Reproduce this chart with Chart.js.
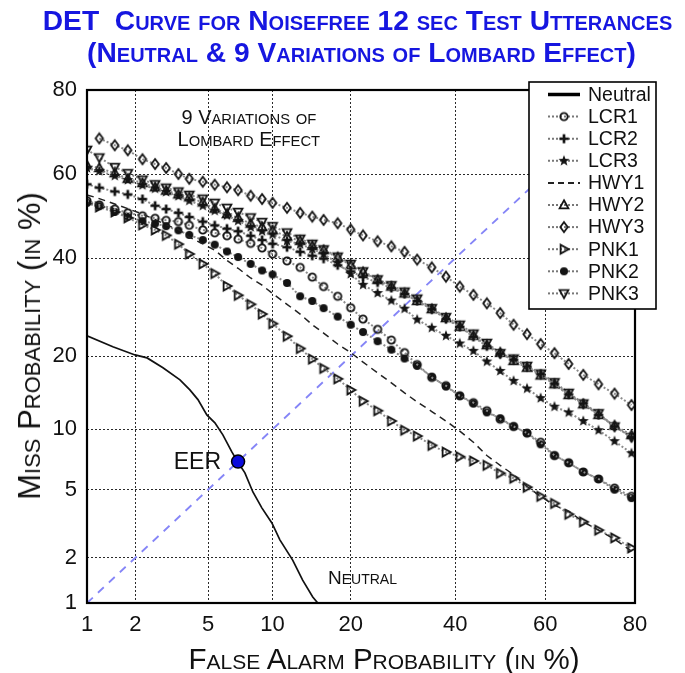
<!DOCTYPE html>
<html><head><meta charset="utf-8">
<script src="https://cdn.jsdelivr.net/npm/chart.js@4.4.1/dist/chart.umd.min.js"></script>
<style>
html,body{margin:0;padding:0;background:#fff;}
#wrap{position:relative;width:685px;height:673px;overflow:hidden;font-family:"Liberation Sans",Arial,sans-serif;}
#wrap canvas{position:absolute;left:0;top:0;}
.title{position:absolute;left:0;width:715px;text-align:center;font-weight:bold;font-size:28px;color:#1616e0;font-variant:small-caps;line-height:32px;white-space:nowrap;}
.axt{position:absolute;color:#111;font-variant:small-caps;white-space:nowrap;transform:translate(-50%,-50%);line-height:34px;}
</style></head><body>
<div id="wrap">
<canvas id="c" width="685" height="673"></canvas>
<div class="title" style="top:4px;font-size:28.2px">DET&nbsp; Curve for Noisefree 12 sec Test Utterances</div>
<div class="title" style="top:36px;left:4px;font-size:28.2px">(Neutral &amp; 9 Variations of Lombard Effect)</div>
<div class="axt" style="left:30px;top:346px;font-size:31px;transform:translate(-50%,-50%) rotate(-90deg)">Miss Probability (in %)</div>
<div class="axt" style="left:384px;top:659px;font-size:29.5px">False Alarm Probability (in %)</div>
</div>
<script>
// ---------- DATA (percent) ----------
const tickPct = [1, 2, 5, 10, 20, 40, 60, 80];
const tickLabels = ['1', '2', '5', '10', '20', '40', '60', '80'];
const axisRangePct = [1, 77.6];

const falseAlarmPct = [1.0,1.2,1.5,1.8,2.2,2.6,3.0,3.5,4.0,4.7,5.4,6.2,7.0,8.0,9.0,10,11.5,13,14.5,16,18,20,22,24.5,27,29.5,32,35,38,41,44,47,50,53,56,59,62,65,68,71,74,77];

const seriesNames = ['LCR1','LCR2','LCR3','HWY1','HWY2','HWY3','PNK1','PNK2','PNK3'];

const lcr1Miss = [53.7,52.7,51.7,50.8,50.1,49.5,49,48.7,47.8,46.7,46,45.3,44.5,43.5,42.4,41,39.4,37.9,35.7,33.6,31.5,29.1,26.8,24.8,22.8,20.6,18.6,16.6,15.4,14,13.1,12.1,11.1,10.3,9.6,8.7,7.5,6.9,6.2,5.7,5.1,4.6];
const lcr2Miss = [57.6,56.8,55.9,55.2,54.1,52.5,51.7,50.8,49.8,48.7,47.8,47,46.4,45.3,44.3,43.4,42.6,41.5,40.6,39.9,38.4,37,35.7,34.5,33.3,32,30.5,28.8,26.8,25.3,23.4,21.7,20.4,19.4,18.3,17.1,15.7,14.2,13,11.6,10.3,9.2];
const lcr3Miss = [61.4,60.7,59.6,58.6,57.4,56.6,55.8,54.8,53.7,52.5,51.3,50.2,48.9,47.4,46.4,45.6,44.1,43.3,42.2,41,38.9,36.4,34,32.2,30.6,28.9,26.7,25.1,23.6,22.2,20.9,19.1,17.6,16.1,15,13.7,12.6,11.9,10.9,9.9,8.8,7.7];
const hwy1Miss = [55.1,54.2,52.9,51.8,50.5,49.2,47.9,46.8,45,43.4,41.9,39.5,37.7,35.5,33.9,32.1,29.8,27.8,25.7,24.1,22.1,20.6,19,17.3,15.8,14.4,13.2,12,10.9,9.8,8.7,7.5,6.7,6,5.2,4.6,4.1,3.8,3.3,2.95,2.6,2.2];
const hwy2Miss = [62,61.4,60.2,58.9,57.9,56.9,56.1,55.2,54.5,53.3,51.8,50.5,49.6,48.2,47.4,46.6,45.1,44.1,42.9,41.9,40.2,38.4,36.8,35.1,33.6,32.1,30.5,28.8,27,25.3,23.6,21.9,20.6,19.2,18.1,16.9,15.6,14.1,12.9,11.6,10.4,9.4];
const hwy3Miss = [null,68,66.5,65.4,63.4,62.3,61.4,60,58.9,58.2,57.5,56.9,56.2,54.9,54.1,53.2,52,50.8,49.9,49.1,48.3,46.8,45.4,44,42.8,41.5,39.7,37.9,35.8,33.6,31.8,30,28,25.7,23.9,22.1,20.5,18.7,17,15.6,14.3,12.8];
const pnk1Miss = [53.1,52.2,51,49.6,47.9,46.7,45.4,43.3,41,38.7,36.5,33.7,31.7,29.8,27.8,25.9,23.5,21.3,19.5,18,16.4,14.8,13.3,12.1,10.9,9.9,9.3,8.4,7.8,7.4,7.05,6.7,6.1,5.75,5.15,4.6,4.2,3.65,3.3,2.95,2.65,2.3];
const pnk2Miss = [53.2,52.4,51,49.9,48.8,48.2,47.6,46.6,45.5,44.3,43.2,41.6,40.3,38.7,37.2,36.3,34.4,31.5,30.5,29,27.3,25.7,24.3,22.6,21.1,19.6,18.4,16.7,15.3,14,13,11.9,11.2,10.3,9.6,8.5,7.5,6.9,6.2,5.7,5,4.5];
const pnk3Miss = [65.5,63.8,61.6,60.2,58.7,57.6,56.8,55.9,55.1,54.2,53.2,52,51,49.7,48.6,47.6,46.1,44.6,43.4,42.1,40.4,38.7,37,35.2,33.9,32.5,31,29,27.2,25.7,24,22.3,20.5,19.6,18.4,17.2,15.9,14.4,13,11.8,10.3,9.2];

const neutralFalseAlarm = [1.0,1.46,1.99,2.34,2.88,3.57,4.03,4.44,4.93,5.41,5.92,6.54,6.98,7.53,8.19,8.98,9.93,10.74,12.13,13.3,14.56,15.22,15.6];
const neutralMiss = [23.6,21.6,20.2,19.7,18.1,16.25,14.8,13.5,11.6,10.7,9.42,7.81,6.97,6.13,4.86,3.97,3.25,2.58,1.93,1.43,1.10,1.0,0.95];

const eerPct = 7.0;
const diagonalPct = [1, 80];

// ---------- helpers ----------
function probit(p){
  const a=[-3.969683028665376e+01,2.209460984245205e+02,-2.759285104469687e+02,1.383577518672690e+02,-3.066479806614716e+01,2.506628277459239e+00];
  const b=[-5.447609879822406e+01,1.615858368580409e+02,-1.556989798598866e+02,6.680131188771972e+01,-1.328068155288572e+01];
  const c=[-7.784894002430293e-03,-3.223964580411365e-01,-2.400758277161838e+00,-2.549732539343734e+00,4.374664141464968e+00,2.938163982698783e+00];
  const d=[7.784695709041462e-03,3.224671290700398e-01,2.445134137142996e+00,3.754408661907416e+00];
  const pl=0.02425; let q,r;
  if(p<pl){q=Math.sqrt(-2*Math.log(p));return (((((c[0]*q+c[1])*q+c[2])*q+c[3])*q+c[4])*q+c[5])/((((d[0]*q+d[1])*q+d[2])*q+d[3])*q+1);}
  if(p<=1-pl){q=p-0.5;r=q*q;return (((((a[0]*r+a[1])*r+a[2])*r+a[3])*r+a[4])*r+a[5])*q/(((((b[0]*r+b[1])*r+b[2])*r+b[3])*r+b[4])*r+1);}
  q=Math.sqrt(-2*Math.log(1-p));return -(((((c[0]*q+c[1])*q+c[2])*q+c[3])*q+c[4])*q+c[5])/((((d[0]*q+d[1])*q+d[2])*q+d[3])*q+1);
}
const P = v => probit(v/100);
function toPoints(xs, ys){
  const out=[];
  xs.forEach((x,i)=>{ if(ys[i]!=null) out.push({x:P(x), y:P(ys[i])}); });
  return out;
}
function marker(kind){
  const s=14, cv=document.createElement('canvas'); cv.width=s; cv.height=s;
  const g=cv.getContext('2d'); g.translate(7,7);
  g.strokeStyle='#141414'; g.fillStyle='#141414'; g.lineWidth=1.8; g.beginPath();
  switch(kind){
    case 'circle': g.arc(0,0,3.7,0,Math.PI*2); g.stroke(); break;
    case 'dot': g.arc(0,0,4,0,Math.PI*2); g.fill(); break;
    case 'plus': g.lineWidth=2.7; g.moveTo(-4.6,0); g.lineTo(4.6,0); g.moveTo(0,-4.6); g.lineTo(0,4.6); g.stroke(); break;
    case 'star': for(let i=0;i<10;i++){const r=i%2?2.4:5.8; const an=-Math.PI/2+i*Math.PI/5; g.lineTo(r*Math.cos(an), r*Math.sin(an));} g.closePath(); g.fill(); break;
    case 'triUp': g.moveTo(0,-4.7); g.lineTo(4.4,3.4); g.lineTo(-4.4,3.4); g.closePath(); g.stroke(); break;
    case 'triDown': g.moveTo(0,4.7); g.lineTo(4.4,-3.4); g.lineTo(-4.4,-3.4); g.closePath(); g.stroke(); break;
    case 'triRight': g.moveTo(4.7,0); g.lineTo(-3.4,4.4); g.lineTo(-3.4,-4.4); g.closePath(); g.stroke(); break;
    case 'diamond': g.moveTo(0,-5); g.lineTo(3.7,0); g.lineTo(0,5); g.lineTo(-3.7,0); g.closePath(); g.stroke(); break;
  }
  return cv;
}

const seriesValues = [lcr1Miss, lcr2Miss, lcr3Miss, hwy1Miss, hwy2Miss, hwy3Miss, pnk1Miss, pnk2Miss, pnk3Miss];
const markerKind = ['circle','plus','star',null,'triUp','diamond','triRight','dot','triDown'];
const markerImg = markerKind.map(k => k ? marker(k) : null);

const FONT = '"Liberation Sans", Arial, sans-serif';

const datasets = [];
datasets.push({label:'EER', data:[{x:P(eerPct), y:P(eerPct)}], showLine:false, pointStyle:'circle', pointRadius:6.5, backgroundColor:'#0b0bdc', borderColor:'#000', borderWidth:1.5});
datasets.push({label:'Neutral', data:toPoints(neutralFalseAlarm, neutralMiss), showLine:true, borderColor:'#111', borderWidth:1.7, pointRadius:0, tension:0});
seriesNames.forEach((name,i)=>{
  const pts = toPoints(falseAlarmPct, seriesValues[i]);
  if(markerImg[i]){
    datasets.push({label:name, data:pts, showLine:true, borderColor:'#8c8c8c', borderWidth:2, borderDash:[2,2], pointStyle:markerImg[i], pointRadius:5, pointHoverRadius:5, tension:0});
  } else {
    datasets.push({label:name, data:pts, showLine:true, borderColor:'#222', borderWidth:1.5, borderDash:[7,5], pointRadius:0, tension:0});
  }
});
datasets.push({label:'diag', data:[{x:P(diagonalPct[0]),y:P(diagonalPct[0])},{x:P(diagonalPct[1]),y:P(diagonalPct[1])}], showLine:true, borderColor:'#8585f7', borderWidth:1.8, borderDash:[8,7], pointRadius:0});

function axis(isX){
  return {
    type:'linear',
    min:P(axisRangePct[0]), max:P(axisRangePct[1]),
    afterBuildTicks:(s)=>{ s.ticks = tickPct.map(p=>({value:Math.min(P(p), s.max)})); },
    afterFit:(s)=>{ if(isX) s.height=70; else s.width=87; },
    ticks:{autoSkip:false, maxRotation:0, padding:isX?9:10, color:'#111', font:{size:22, family:FONT}, callback:(v,i)=>tickLabels[i]},
    grid:{color:'#2a2a2a', lineWidth:1, drawTicks:false},
    border:{display:false, dash:[2,2]}
  };
}

function drawSC(ctx, text, x, y, size, align, sc){
  const ratio=0.74, runs=[];
  for(const ch of text){
    const low = sc && ch !== ch.toUpperCase();
    const s = low ? size*ratio : size;
    const t = sc ? ch.toUpperCase() : ch;
    if(runs.length && runs[runs.length-1].s===s) runs[runs.length-1].t+=t; else runs.push({t,s});
  }
  let w=0; runs.forEach(r=>{ctx.font=`${r.s}px ${FONT}`; r.w=ctx.measureText(r.t).width; w+=r.w;});
  let cx = align==='center'? x-w/2 : align==='right'? x-w : x;
  ctx.textBaseline='alphabetic'; ctx.textAlign='left';
  runs.forEach(r=>{ctx.font=`${r.s}px ${FONT}`; ctx.fillText(r.t,cx,y); cx+=r.w;});
}

const notes = [
  {text:'9 Variations of', fa:7.85, miss:71, align:'center', size:20, sc:true},
  {text:'Lombard Effect', fa:7.85, miss:66.4, align:'center', size:20, sc:true},
  {text:'Neutral', fa:16.6, miss:1.35, align:'left', size:19, sc:true},
  {text:'EER', fa:5.8, miss:6.43, align:'right', size:23, sc:false}
];

const framePlugin = {
  id:'frame',
  afterDatasetsDraw(chart){
    const {ctx, chartArea:a, scales} = chart;
    ctx.save();
    ctx.strokeStyle='#000'; ctx.lineWidth=2.2;
    ctx.strokeRect(a.left, a.top, a.right-a.left, a.bottom-a.top);
    ctx.fillStyle='#111';
    notes.forEach(n=>{
      drawSC(ctx, n.text, scales.x.getPixelForValue(P(n.fa)), scales.y.getPixelForValue(P(n.miss)), n.size, n.align, n.sc);
    });
    ctx.restore();
  },
  afterDraw(chart){
    const ctx = chart.ctx;
    const bx=529, by=82, bw=127, bh=227, row=22.1;
    ctx.save();
    ctx.fillStyle='#fff'; ctx.fillRect(bx,by,bw,bh);
    ctx.strokeStyle='#000'; ctx.lineWidth=1.6; ctx.strokeRect(bx,by,bw,bh);
    const entries = ['Neutral'].concat(seriesNames);
    entries.forEach((name,i)=>{
      const y = by+12.5+i*row;
      const x0=548, x1=580;
      if(name==='Neutral'){
        ctx.setLineDash([]); ctx.strokeStyle='#000'; ctx.lineWidth=3.5;
        ctx.beginPath(); ctx.moveTo(x0,y); ctx.lineTo(x1,y); ctx.stroke();
      } else {
        const k = seriesNames.indexOf(name);
        if(markerImg[k]){
          ctx.setLineDash([2,2]); ctx.strokeStyle='#777'; ctx.lineWidth=2;
          ctx.beginPath(); ctx.moveTo(x0,y); ctx.lineTo(x1,y); ctx.stroke();
          ctx.setLineDash([]);
          ctx.drawImage(markerImg[k], (x0+x1)/2-7, y-7);
        } else {
          ctx.setLineDash([6,4]); ctx.strokeStyle='#222'; ctx.lineWidth=2;
          ctx.beginPath(); ctx.moveTo(x0,y); ctx.lineTo(x1,y); ctx.stroke();
          ctx.setLineDash([]);
        }
      }
      ctx.fillStyle='#111'; ctx.font=`19.5px ${FONT}`; ctx.textAlign='left'; ctx.textBaseline='middle';
      ctx.fillText(name, 588, y+1);
    });
    ctx.restore();
  }
};

new Chart(document.getElementById('c'), {
  type:'scatter',
  data:{datasets},
  options:{
    responsive:false, animation:false, devicePixelRatio:1,
    layout:{padding:{top:90, right:50, left:0, bottom:0}},
    scales:{x:axis(true), y:axis(false)},
    plugins:{legend:{display:false}, tooltip:{enabled:false}}
  },
  plugins:[framePlugin]
});
</script>
</body></html>
